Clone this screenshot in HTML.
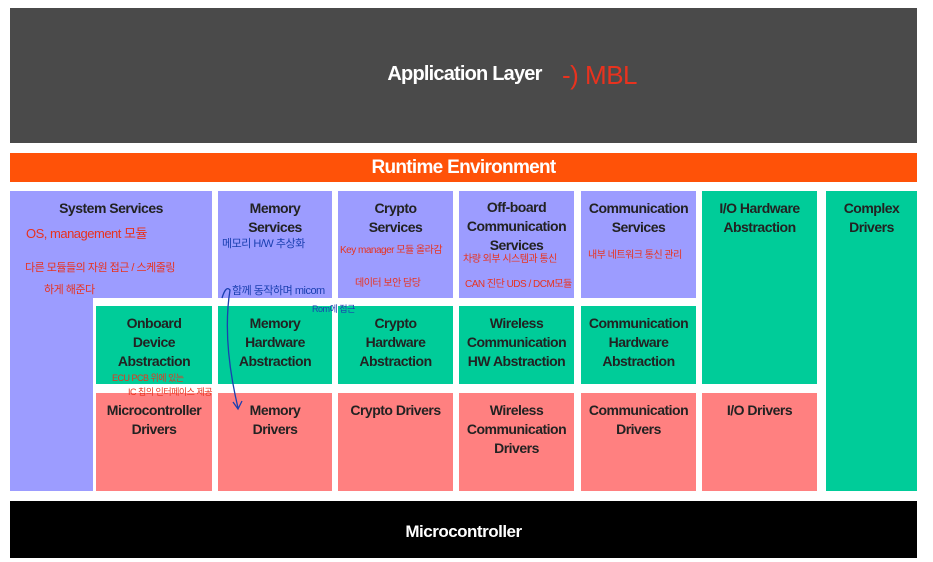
<!DOCTYPE html>
<html><head><meta charset="utf-8"><style>
body{margin:0;width:933px;height:562px;background:#fff;position:relative;overflow:hidden;font-family:"Liberation Sans","Noto Sans CJK KR",sans-serif}
.b{position:absolute;box-sizing:border-box;text-align:center;font-weight:bold;font-size:14px;letter-spacing:-0.5px;line-height:19px;color:#222;padding-top:8px}
.p{background:#9c9cff}.g{background:#00cc99}.r{background:#ff8080}
.h{position:absolute;font-size:11px;white-space:nowrap;line-height:12px;letter-spacing:-0.5px}
.red{color:#e8321e}.blue{color:#1a3fb0}
</style></head><body>
<div class="b" style="left:10px;top:8px;width:907px;height:135px;background:#4a4a4a;color:#fff;font-size:20px;padding-top:57px;padding-left:2px;letter-spacing:-0.8px">Application Layer</div>
<div class="h red" style="left:562px;top:60px;font-size:26px;line-height:30px">-) MBL</div>
<div class="b" style="left:10px;top:153px;width:907px;height:29px;background:#ff5208;color:#fff;font-size:19px;padding-top:5px;letter-spacing:-0.7px">Runtime Environment</div>
<div class="b p" style="left:10px;top:191px;width:202px;height:107px">System Services</div>
<div class="b p" style="left:10px;top:290px;width:83px;height:201px"></div>
<div class="b p" style="left:218px;top:191px;width:114px;height:107px">Memory<br>Services</div>
<div class="b p" style="left:338px;top:191px;width:115px;height:107px">Crypto<br>Services</div>
<div class="b p" style="left:459px;top:191px;width:115px;height:107px;padding-top:7px">Off-board<br>Communication<br>Services</div>
<div class="b p" style="left:581px;top:191px;width:115px;height:107px">Communication<br>Services</div>
<div class="b g" style="left:702px;top:191px;width:115px;height:193px">I/O Hardware<br>Abstraction</div>
<div class="b g" style="left:826px;top:191px;width:91px;height:300px">Complex<br>Drivers</div>
<div class="b g" style="left:96px;top:306px;width:116px;height:78px">Onboard<br>Device<br>Abstraction</div>
<div class="b g" style="left:218px;top:306px;width:114px;height:78px">Memory<br>Hardware<br>Abstraction</div>
<div class="b g" style="left:338px;top:306px;width:115px;height:78px">Crypto<br>Hardware<br>Abstraction</div>
<div class="b g" style="left:459px;top:306px;width:115px;height:78px">Wireless<br>Communication<br>HW Abstraction</div>
<div class="b g" style="left:581px;top:306px;width:115px;height:78px">Communication<br>Hardware<br>Abstraction</div>
<div class="b r" style="left:96px;top:393px;width:116px;height:98px">Microcontroller<br>Drivers</div>
<div class="b r" style="left:218px;top:393px;width:114px;height:98px">Memory<br>Drivers</div>
<div class="b r" style="left:338px;top:393px;width:115px;height:98px">Crypto Drivers</div>
<div class="b r" style="left:459px;top:393px;width:115px;height:98px">Wireless<br>Communication<br>Drivers</div>
<div class="b r" style="left:581px;top:393px;width:115px;height:98px">Communication<br>Drivers</div>
<div class="b r" style="left:702px;top:393px;width:115px;height:98px">I/O Drivers</div>
<div class="b" style="left:10px;top:501px;width:907px;height:57px;background:#000;color:#fff;font-size:17px;padding-top:21px">Microcontroller</div>
<div class="h red" style="left:26px;top:228px;font-size:13px">OS, management 모듈</div>
<div class="h red" style="left:25px;top:262px">다른 모듈들의 자원 접근 / 스케줄링</div>
<div class="h red" style="left:44px;top:284px">하게 해준다</div>
<div class="h blue" style="left:222px;top:238px">메모리 H/W 추상화</div>
<div class="h blue" style="left:232px;top:285px">함께 동작하며 micom</div>
<div class="h blue" style="left:312px;top:303px;font-size:9px">Rom에 접근</div>
<div class="h red" style="left:340px;top:245px;font-size:10px">Key manager 모듈 올라감</div>
<div class="h red" style="left:355px;top:278px;font-size:10px">데이터 보안 담당</div>
<div class="h red" style="left:463px;top:254px;font-size:10px">차량 외부 시스템과 통신</div>
<div class="h red" style="left:465px;top:279px;font-size:10px">CAN 진단 UDS / DCM모듈</div>
<div class="h red" style="left:588px;top:250px;font-size:10px">내부 네트워크 통신 관리</div>
<div class="h red" style="left:112px;top:372px;font-size:9px">ECU PCB 위에 있는</div>
<div class="h red" style="left:128px;top:386px;font-size:9px">IC 칩의 인터페이스 제공</div>
<svg style="position:absolute;left:0;top:0" width="933" height="562"><path d="M222 298 Q226 285 230 290 Q222 340 238 408" fill="none" stroke="#1a3fb0" stroke-width="1.3"/><path d="M233 402 L238 409 L242 401" fill="none" stroke="#1a3fb0" stroke-width="1.3"/></svg>
</body></html>
